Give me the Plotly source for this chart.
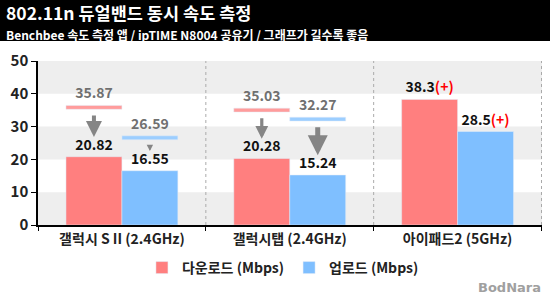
import plotly.graph_objects as go

categories = ["갤럭시 S II (2.4GHz)", "갤럭시탭 (2.4GHz)", "아이패드2 (5GHz)"]
download = [20.82, 20.28, 38.3]
upload = [16.55, 15.24, 28.5]
download_before = [35.87, 35.03, None]
upload_before = [26.59, 32.27, None]
notes = ["", "", "(+)"]

# styles
C_DOWN = "#FF7F7F"
C_UP = "#7FBFFF"
C_DOWN_REF = "#FF9C9C"
C_UP_REF = "#9CCEFF"
FONT = "Noto Sans CJK KR"
BARGAP = 1 / 3
REF_THICK = 1.2
arrow_widths_down = [4, 3.2]
arrow_widths_up = [1.6, 5]


def fmt(v):
    return f"{v:g}" if v is not None else ""


def labels(vals, marks):
    return [f"<b>{fmt(v)}</b>" + (f"<b><span style='color:#FF0000'>{m}</span></b>" if m else "") for v, m in zip(vals, marks)]


fig = go.Figure()

fig.add_bar(x=categories, y=download, name="<b>다운로드 (Mbps)</b>", marker_color=C_DOWN,
            offsetgroup="d", text=labels(download, notes), textposition="outside",
            textfont=dict(family=FONT, size=14, color="#111"), constraintext="none",
            cliponaxis=False)
fig.add_bar(x=categories, y=upload, name="<b>업로드 (Mbps)</b>", marker_color=C_UP,
            offsetgroup="u", text=labels(upload, notes), textposition="outside",
            textfont=dict(family=FONT, size=14, color="#111"), constraintext="none",
            cliponaxis=False)

for vals, col, grp in [(download_before, C_DOWN_REF, "d"), (upload_before, C_UP_REF, "u")]:
    fig.add_bar(x=categories,
                y=[REF_THICK if v is not None else None for v in vals],
                base=[v - REF_THICK / 2 if v is not None else None for v in vals],
                marker_color=col, offsetgroup=grp, showlegend=False,
                text=[f"<b>{fmt(v)}</b>" for v in vals], textposition="outside",
                textfont=dict(family=FONT, size=14, color="#707070"),
                constraintext="none", cliponaxis=False)

# arrows from previous value down to current value
w = (1 - BARGAP) / 2
for i in range(len(categories)):
    for vals, before, off, widths in [(download, download_before, -w / 2, arrow_widths_down),
                                      (upload, upload_before, w / 2, arrow_widths_up)]:
        if before[i] is None:
            continue
        fig.add_annotation(x=i + off, y=vals[i] + 6, xref="x", yref="y",
                           ax=i + off, ay=before[i] - 2, axref="x", ayref="y",
                           text="", showarrow=True, arrowhead=2, arrowsize=0.8,
                           arrowwidth=widths[i], arrowcolor="#858585", standoff=0)

shapes = []
for lo in [0, 20, 40]:
    shapes.append(dict(type="rect", xref="paper", yref="y", x0=0, x1=1, y0=lo, y1=lo + 10,
                       fillcolor="#EEEEEE", line_width=0, layer="below"))
for b in [0.5, 1.5, 2.5]:
    shapes.append(dict(type="line", xref="x", yref="paper", x0=b, x1=b, y0=0, y1=1,
                       line=dict(color="#AAAAAA", width=1, dash="dot"), layer="below"))
# title bar
shapes.append(dict(type="rect", xref="paper", yref="paper", x0=-0.1, x1=1.1,
                   y0=1.122, y1=1.5, fillcolor="#000000", line_width=0))

fig.update_layout(
    width=550, height=300,
    margin=dict(l=38, r=8, t=61, b=75),
    paper_bgcolor="white", plot_bgcolor="white",
    barmode="group", bargap=BARGAP, bargroupgap=0,
    shapes=shapes,
    showlegend=True,
    legend=dict(orientation="h", x=0.486, xanchor="center", y=-0.262, yanchor="middle",
                font=dict(family=FONT, size=14, color="#222"), traceorder="normal",
                itemwidth=30),
    font=dict(family=FONT),
    xaxis=dict(showline=True, linecolor="#000", linewidth=1.5, ticks="outside",
               tickson="boundaries", ticklen=4, tickcolor="#000",
               tickfont=dict(family=FONT, size=14, color="#222"),
               tickvals=categories, ticktext=[f"<b>{c}</b>" for c in categories]),
    yaxis=dict(range=[0, 50], dtick=10, showline=True, linecolor="#000", linewidth=1.5,
               ticks="outside", ticklen=5, tickcolor="#000", showgrid=False, zeroline=False,
               tickfont=dict(family=FONT, size=15, color="#222"),
               tickvals=[0, 10, 20, 30, 40, 50],
               ticktext=[f"<b>{v}</b>" for v in [0, 10, 20, 30, 40, 50]]),
)

fig.add_annotation(x=-0.0635, y=1.2957, xref="paper", yref="paper", xanchor="left",
                   yanchor="middle", showarrow=False, borderpad=0, borderwidth=0,
                   text="<b>802.11n 듀얼밴드 동시 속도 측정</b>",
                   font=dict(family=FONT, size=17.5, color="white"))
fig.add_annotation(x=-0.0635, y=1.1616, xref="paper", yref="paper", xanchor="left",
                   yanchor="middle", showarrow=False, borderpad=0, borderwidth=0,
                   text="<b>Benchbee 속도 측정 앱 / ipTIME N8004 공유기 / 그래프가 길수록 좋음</b>",
                   font=dict(family=FONT, size=12, color="white"))
fig.add_annotation(x=0.936, y=-0.384, xref="paper", yref="paper", xanchor="center",
                   yanchor="middle", showarrow=False, text="<b>BodNara</b>",
                   font=dict(family="DejaVu Sans", size=13, color="#A0A0A0"))

fig.write_html("out.html")
